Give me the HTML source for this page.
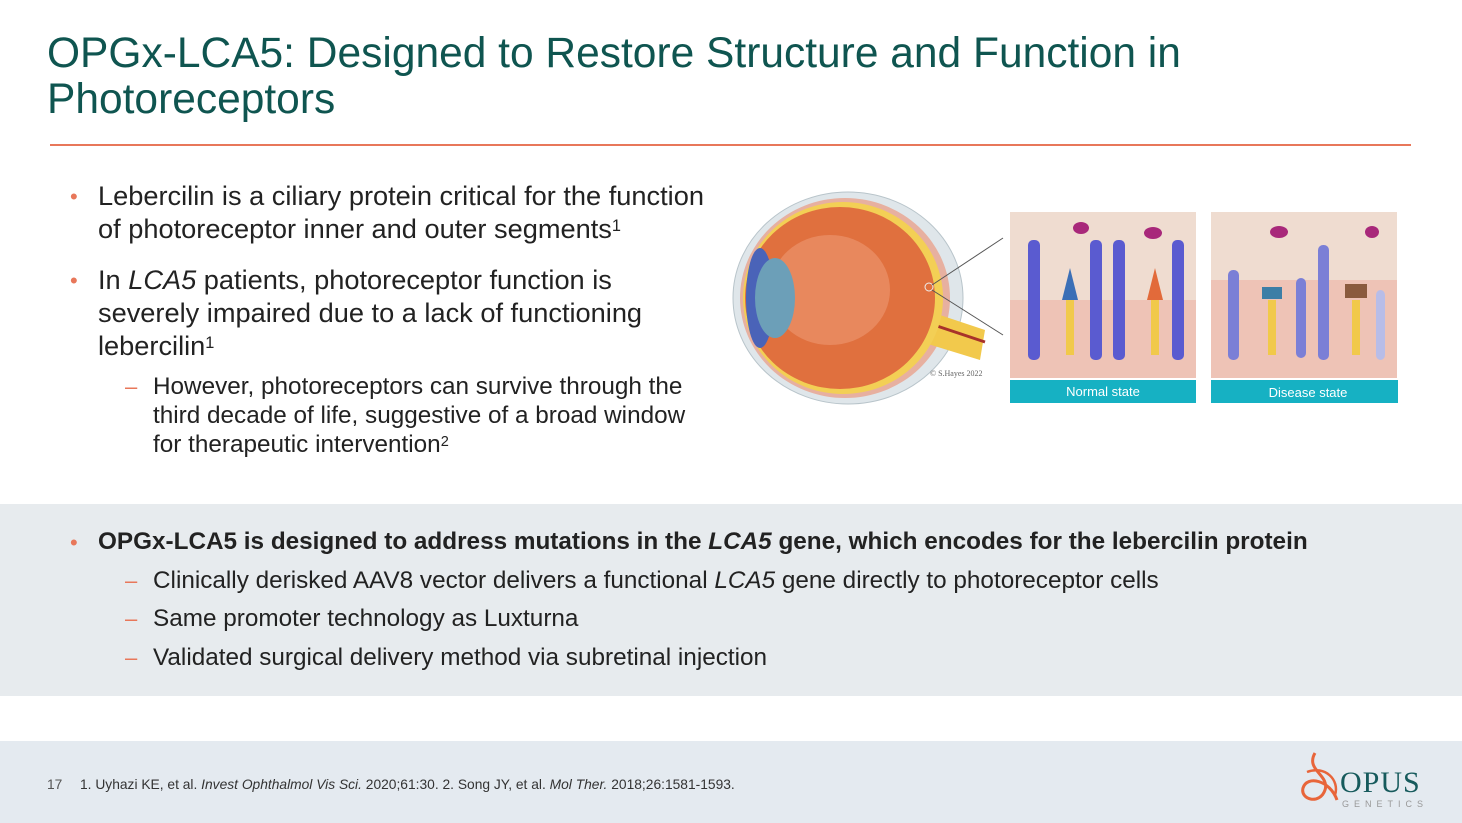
<!DOCTYPE html>
<html><head><meta charset="utf-8"><style>
body{margin:0;width:1462px;height:823px;position:relative;background:#fff;font-family:"Liberation Sans",Arial,sans-serif;overflow:hidden}
.t{position:absolute;left:47px;top:31px;font-size:42.5px;line-height:46px;color:#0f5550;white-space:nowrap}
.hr{position:absolute;left:50px;top:144px;width:1361px;height:2px;background:#e8775a}
.b{position:absolute;font-size:27.2px;line-height:33px;color:#222;white-space:nowrap}
.dot{position:absolute;color:#e8775a;font-size:22px}
.s{position:absolute;font-size:24.3px;line-height:29px;color:#222;white-space:nowrap}
.band{position:absolute;left:0;top:504px;width:1462px;height:192px;background:#e7ebee}
.foot{position:absolute;left:0;top:741px;width:1462px;height:82px;background:#e4eaf0}
sup{font-size:60%;vertical-align:top;position:relative;top:-2px}
</style></head><body>
<div class="t">OPGx-LCA5: Designed to Restore Structure and Function in<br>Photoreceptors</div>
<div class="hr"></div>

<div class="dot" style="left:70px;top:184px">•</div>
<div class="b" style="left:98px;top:179px">Lebercilin is a ciliary protein critical for the function<br>of photoreceptor inner and outer segments<sup>1</sup></div>
<div class="dot" style="left:70px;top:268px">•</div>
<div class="b" style="left:98px;top:263px">In <i>LCA5</i> patients, photoreceptor function is<br>severely impaired due to a lack of functioning<br>lebercilin<sup>1</sup></div>
<div class="dot" style="left:125px;top:374px">–</div>
<div class="s" style="left:153px;top:372px">However, photoreceptors can survive through the<br>third decade of life, suggestive of a broad window<br>for therapeutic intervention<sup>2</sup></div>

<svg style="position:absolute;left:0;top:0" width="1462" height="500">
<ellipse cx="848" cy="298" rx="115" ry="106" fill="#dfe6ea" stroke="#b8c4ca"/>
<ellipse cx="845" cy="298" rx="105" ry="100" fill="#e7b0a0"/>
<path d="M925 310 L985 330 L980 360 L915 340Z" fill="#f2c94c"/>
<path d="M925 322 L985 342" stroke="#a8322a" stroke-width="3"/>
<ellipse cx="843" cy="298" rx="100" ry="96" fill="#f3cf55"/>
<ellipse cx="840" cy="298" rx="95" ry="91" fill="#e0703e"/>
<ellipse cx="830" cy="290" rx="60" ry="55" fill="#ec9873" opacity=".6"/>
<ellipse cx="760" cy="298" rx="14" ry="50" fill="#4a63b8"/>
<ellipse cx="775" cy="298" rx="20" ry="40" fill="#6c9fb8"/>
<circle cx="929" cy="287" r="4" fill="none" stroke="#eee"/>
<line x1="932" y1="285" x2="1003" y2="238" stroke="#555"/>
<line x1="932" y1="290" x2="1003" y2="335" stroke="#555"/>
<text x="930" y="376" font-size="8" fill="#666" font-family="Liberation Serif">© S.Hayes 2022</text>
<g>
<rect x="1010" y="212" width="186" height="166" fill="#eec3b6"/>
<path d="M1010 212 H1196 V300 H1010Z" fill="#efdcd0"/>
<rect x="1010" y="380" width="186" height="23" fill="#16b1c3"/>
<text x="1103" y="396" font-size="13" fill="#fff" text-anchor="middle">Normal state</text>
<g fill="#5a5bd0"><rect x="1028" y="240" width="12" height="120" rx="5"/><rect x="1090" y="240" width="12" height="120" rx="5"/><rect x="1113" y="240" width="12" height="120" rx="5"/><rect x="1172" y="240" width="12" height="120" rx="5"/></g>
<g fill="#f1c94a"><rect x="1066" y="295" width="8" height="60"/><rect x="1151" y="295" width="8" height="60"/></g>
<path d="M1062 300 L1070 268 L1078 300Z" fill="#3b6fb6"/><path d="M1147 300 L1155 268 L1163 300Z" fill="#e26a3a"/>
<g fill="#a8287a"><ellipse cx="1081" cy="228" rx="8" ry="6"/><ellipse cx="1153" cy="233" rx="9" ry="6"/></g>
</g>
<g>
<rect x="1211" y="212" width="186" height="166" fill="#eec3b6"/>
<path d="M1211 212 H1397 V280 H1211Z" fill="#efdcd0"/>
<rect x="1211" y="380" width="187" height="23" fill="#16b1c3"/>
<text x="1308" y="397" font-size="13" fill="#fff" text-anchor="middle">Disease state</text>
<g fill="#7b7fd6"><rect x="1228" y="270" width="11" height="90" rx="5"/><rect x="1296" y="278" width="10" height="80" rx="5"/><rect x="1318" y="245" width="11" height="115" rx="5"/><rect x="1376" y="290" width="9" height="70" rx="5" fill="#b8bde8"/></g>
<g fill="#f1c94a"><rect x="1268" y="300" width="8" height="55"/><rect x="1352" y="300" width="8" height="55"/></g>
<rect x="1262" y="287" width="20" height="12" fill="#3d7ea6"/><rect x="1345" y="284" width="22" height="14" fill="#8a5a3e"/>
<g fill="#a8287a"><ellipse cx="1279" cy="232" rx="9" ry="6"/><ellipse cx="1372" cy="232" rx="7" ry="6"/></g>
</g>
</svg>

<div class="band"></div>
<div class="dot" style="left:70px;top:530px">•</div>
<div class="s" style="left:98px;top:527px;font-weight:bold">OPGx-LCA5 is designed to address mutations in the <i>LCA5</i> gene, which encodes for the lebercilin protein</div>
<div class="dot" style="left:125px;top:568px">–</div>
<div class="s" style="left:153px;top:566px">Clinically derisked AAV8 vector delivers a functional <i>LCA5</i> gene directly to photoreceptor cells</div>
<div class="dot" style="left:125px;top:606px">–</div>
<div class="s" style="left:153px;top:604px">Same promoter technology as Luxturna</div>
<div class="dot" style="left:125px;top:645px">–</div>
<div class="s" style="left:153px;top:643px">Validated surgical delivery method via subretinal injection</div>

<div class="foot"></div>
<div style="position:absolute;left:47px;top:777px;font-size:13.8px;color:#555">17</div>
<div style="position:absolute;left:80px;top:777px;font-size:13.8px;color:#333;white-space:nowrap">1. Uyhazi KE, et al. <i>Invest Ophthalmol Vis Sci.</i> 2020;61:30. 2. Song JY, et al. <i>Mol Ther.</i> 2018;26:1581-1593.</div>
<svg style="position:absolute;left:1295px;top:750px" width="50" height="60"><path d="M20 3 C10 20 35 25 30 40 C25 55 5 50 8 38 C12 25 35 30 42 50" fill="none" stroke="#e8653a" stroke-width="3"/><path d="M12 22 C30 15 45 30 40 45" fill="none" stroke="#e8653a" stroke-width="2.5"/></svg>
<div style="position:absolute;left:1340px;top:768px;font-family:'Liberation Serif',serif;font-size:30px;line-height:30px;color:#165a5c;letter-spacing:1px">OPUS</div>
<div style="position:absolute;left:1342px;top:799px;font-size:9px;color:#999;letter-spacing:5px">GENETICS</div>
</body></html>
